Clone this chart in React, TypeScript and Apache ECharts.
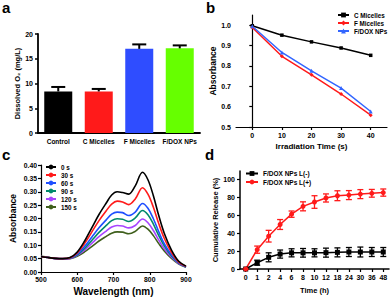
import React, { useEffect, useRef } from 'react';
import * as echarts from 'echarts';

// Panel a
const aCategories = ['Control', 'C Micelles', 'F Micelles', 'F/DOX NPs'];
const aValues = [8.4, 8.4, 17.0, 17.1];
const aErrors = [0.9, 0.5, 0.9, 0.6];
const aColors = ['#000000', '#ff1a1a', '#2f4dff', '#66ff00'];

// Panel b
const bTimes = [0, 10, 20, 30, 40];
const bCMicelles = [0.997, 0.951, 0.918, 0.888, 0.852];
const bFMicelles = [0.989, 0.847, 0.756, 0.662, 0.558];
const bFDOX = [0.995, 0.866, 0.776, 0.691, 0.576];
const bYTicks = [0.5, 0.6, 0.7, 0.8, 0.9, 1.0];
const bXTicks = [0, 10, 20, 30, 40];

// Panel c
const cWavelengths = [500, 520, 540, 560, 580, 600, 620, 640, 660, 680, 695, 710, 725, 742, 760, 780, 795, 810, 825, 840, 860, 880, 900];
const c0s = [0.058, 0.054, 0.051, 0.050, 0.054, 0.075, 0.115, 0.165, 0.215, 0.258, 0.288, 0.300, 0.297, 0.291, 0.322, 0.373, 0.345, 0.285, 0.210, 0.145, 0.082, 0.040, 0.022];
const c30s = [0.058, 0.054, 0.051, 0.050, 0.053, 0.071, 0.106, 0.149, 0.192, 0.229, 0.254, 0.265, 0.262, 0.252, 0.273, 0.315, 0.291, 0.242, 0.180, 0.126, 0.073, 0.037, 0.021];
const c60s = [0.058, 0.054, 0.051, 0.050, 0.052, 0.067, 0.095, 0.130, 0.165, 0.195, 0.216, 0.224, 0.222, 0.211, 0.224, 0.256, 0.238, 0.199, 0.150, 0.106, 0.064, 0.034, 0.020];
const c90s = [0.058, 0.054, 0.051, 0.049, 0.052, 0.064, 0.088, 0.118, 0.148, 0.174, 0.192, 0.199, 0.197, 0.189, 0.202, 0.230, 0.214, 0.179, 0.136, 0.098, 0.060, 0.033, 0.019];
const c120s = [0.058, 0.054, 0.050, 0.049, 0.051, 0.062, 0.082, 0.107, 0.132, 0.153, 0.168, 0.174, 0.172, 0.165, 0.174, 0.198, 0.184, 0.155, 0.119, 0.087, 0.055, 0.031, 0.019];
const c150s = [0.059, 0.055, 0.050, 0.048, 0.050, 0.059, 0.075, 0.095, 0.116, 0.133, 0.145, 0.150, 0.149, 0.143, 0.152, 0.172, 0.160, 0.136, 0.106, 0.079, 0.051, 0.030, 0.018];
const cNames = ['0 s', '30 s', '60 s', '90 s', '120 s', '150 s'];
const cColors = ['#000000', '#ff1a1a', '#1f4fff', '#00896b', '#a845ff', '#3f5f1c'];

// Panel d
const dTimes = ['0', '1', '2', '4', '6', '8', '10', '12', '18', '24', '30', '36', '48'];
const dMinus = [0, 7, 13, 16.6, 18, 18, 18, 18.2, 18.5, 18.9, 18.9, 18.9, 18.9];
const dMinusErr = [0, 2.8, 5, 4.5, 4.5, 4.8, 4.5, 5, 5, 5, 5.5, 5, 5];
const dPlus = [0, 21.5, 36.5, 49.5, 61, 69.7, 74.5, 79, 81.5, 82.2, 83.3, 84.2, 85];
const dPlusErr = [0, 4, 6.5, 5.5, 3.5, 5, 7, 4.5, 5.5, 5, 5, 4.3, 4];
const dYTicks = [0, 20, 40, 60, 80, 100];

const FONT = 'Liberation Sans, Arial, sans-serif';

function errRender(capW: number, color: string, lw: number, both: boolean) {
  return (params: any, api: any) => {
    const x = api.value(0);
    const v = api.value(1);
    const e = api.value(2);
    const top = api.coord([x, v + e]);
    const bot = api.coord([x, both ? v - e : v]);
    const st = { stroke: color, lineWidth: lw };
    return {
      type: 'group',
      children: [
        { type: 'line', shape: { x1: top[0], y1: top[1], x2: bot[0], y2: bot[1] }, style: st },
        { type: 'line', shape: { x1: top[0] - capW / 2, y1: top[1], x2: top[0] + capW / 2, y2: top[1] }, style: st },
        ...(both
          ? [{ type: 'line', shape: { x1: bot[0] - capW / 2, y1: bot[1], x2: bot[0] + capW / 2, y2: bot[1] }, style: st }]
          : []),
      ],
    };
  };
}

const axisLine = (w: number) => ({ show: true, lineStyle: { color: '#000', width: w } });
const tickOut = (w: number) => ({ show: true, inside: false, length: 3, lineStyle: { color: '#000', width: w } });
const lbl = (size: number, margin: number) => ({ color: '#000', fontSize: size, fontWeight: 'bold', fontFamily: FONT, margin });
const nameStyle = (size: number) => ({ color: '#000', fontSize: size, fontWeight: 'bold', fontFamily: FONT });

export default function App() {
  const ref = useRef<HTMLDivElement>(null);
  useEffect(() => {
    if (!ref.current) return;
    const chart = echarts.init(ref.current, null, { renderer: 'svg' });
    const option: any = {
      animation: false,
      backgroundColor: '#fff',
      textStyle: { fontFamily: FONT },
      grid: [
        { left: 38, top: 34, width: 162, height: 99 },
        { left: 236, top: 15, width: 151, height: 112 },
        { left: 41, top: 165, width: 145, height: 107 },
        { left: 240, top: 171, width: 149, height: 98 },
      ],
      xAxis: [
        {
          gridIndex: 0, type: 'category', data: aCategories, boundaryGap: true,
          axisLine: axisLine(1.8), axisTick: { show: false },
          axisLabel: { ...lbl(6.5, 5), interval: 0 },
        },
        {
          gridIndex: 1, type: 'value', min: -5.5, max: 45.5,
          axisLine: axisLine(1.2), axisTick: { ...tickOut(1.2), customValues: bXTicks },
          axisLabel: { ...lbl(7, 5), customValues: bXTicks },
          splitLine: { show: false },
          name: 'Irradiation Time (s)', nameLocation: 'middle', nameGap: 15, nameTextStyle: nameStyle(8),
        },
        {
          gridIndex: 2, type: 'value', min: 500, max: 900, interval: 100,
          axisLine: axisLine(1.2), axisTick: tickOut(1.2),
          axisLabel: lbl(6.8, 4), splitLine: { show: false },
          name: 'Wavelength (nm)', nameLocation: 'middle', nameGap: 14, nameTextStyle: nameStyle(10),
        },
        {
          gridIndex: 3, type: 'category', data: dTimes, boundaryGap: true,
          axisLine: axisLine(1.5), axisTick: { ...tickOut(1.2), alignWithLabel: true },
          axisLabel: { ...lbl(7, 5), interval: 0 },
          name: 'Time (h)', nameLocation: 'middle', nameGap: 17, nameTextStyle: nameStyle(7.5),
        },
      ],
      yAxis: [
        {
          gridIndex: 0, type: 'value', min: 0, max: 20, interval: 5,
          axisLine: axisLine(1.8), axisTick: tickOut(1.5),
          axisLabel: lbl(7, 5), splitLine: { show: false },
          name: 'Dissolved O\u2082 (mg/L)', nameLocation: 'middle', nameGap: 16, nameRotate: 90,
          nameTextStyle: nameStyle(7.5),
        },
        {
          gridIndex: 1, type: 'value', min: 0.5, max: 1.05,
          axisLine: axisLine(1.2), axisTick: { ...tickOut(1.2), customValues: bYTicks },
          axisLabel: { ...lbl(7, 5), customValues: bYTicks, formatter: (v: number) => v.toFixed(1) },
          splitLine: { show: false },
          name: 'Absorbance', nameLocation: 'middle', nameGap: 15, nameRotate: 90, nameTextStyle: nameStyle(8.5),
        },
        {
          gridIndex: 2, type: 'value', min: 0, max: 0.4, interval: 0.05,
          axisLine: axisLine(1.2), axisTick: tickOut(1.2),
          axisLabel: { ...lbl(6.8, 4), formatter: (v: number) => v.toFixed(2) },
          splitLine: { show: false },
          name: 'Absorbance', nameLocation: 'middle', nameGap: 24, nameRotate: 90, nameTextStyle: nameStyle(8.5),
        },
        {
          gridIndex: 3, type: 'value', min: 0, max: 109,
          axisLine: axisLine(1.5), axisTick: { ...tickOut(1.2), customValues: dYTicks },
          axisLabel: { ...lbl(7, 5), customValues: dYTicks },
          splitLine: { show: false },
          name: 'Cumulative Release (%)', nameLocation: 'middle', nameGap: 18, nameRotate: 90, nameTextStyle: nameStyle(7.5),
        },
      ],
      legend: [
        {
          data: ['C Micelles', 'F Micelles', 'F/DOX NPs'], orient: 'vertical', left: 337, top: 12, padding: 0,
          itemWidth: 11, itemHeight: 6, itemGap: 2,
          textStyle: { fontSize: 6.3, fontWeight: 'bold', color: '#000', fontFamily: FONT },
        },
        {
          data: cNames, orient: 'vertical', left: 45, top: 164, padding: 0,
          itemWidth: 10, itemHeight: 6, itemGap: 2,
          textStyle: { fontSize: 6.3, fontWeight: 'bold', color: '#000', fontFamily: FONT },
        },
        {
          data: ['F/DOX NPs L(-)', 'F/DOX NPs L(+)'], orient: 'vertical', left: 245, top: 170, padding: 0,
          itemWidth: 12, itemHeight: 6, itemGap: 1.5,
          textStyle: { fontSize: 6.5, fontWeight: 'bold', color: '#000', fontFamily: FONT },
        },
      ],
      graphic: [
        { type: 'text', left: 2, top: 0, style: { text: 'a', font: `bold 15px ${FONT}`, fill: '#000' } },
        { type: 'text', left: 206, top: 0, style: { text: 'b', font: `bold 15px ${FONT}`, fill: '#000' } },
        { type: 'text', left: 2, top: 147, style: { text: 'c', font: `bold 15px ${FONT}`, fill: '#000' } },
        { type: 'text', left: 205, top: 147, style: { text: 'd', font: `bold 15px ${FONT}`, fill: '#000' } },
      ],
      series: [
        {
          type: 'bar', xAxisIndex: 0, yAxisIndex: 0, barWidth: 28,
          data: aValues.map((v, i) => ({ value: v, itemStyle: { color: aColors[i] } })),
        },
        {
          type: 'custom', name: 'errA', xAxisIndex: 0, yAxisIndex: 0, z: 5,
          renderItem: errRender(14, '#000', 2, false),
          data: aValues.map((v, i) => [i, v, aErrors[i]]),
        },
        {
          type: 'line', name: 'C Micelles', xAxisIndex: 1, yAxisIndex: 1,
          data: bTimes.map((t, i) => [t, bCMicelles[i]]),
          color: '#000', lineStyle: { width: 1.5 }, symbol: 'rect', symbolSize: 3.5,
        },
        {
          type: 'line', name: 'F Micelles', xAxisIndex: 1, yAxisIndex: 1,
          data: bTimes.map((t, i) => [t, bFMicelles[i]]),
          color: '#ff1a1a', lineStyle: { width: 1.5 }, symbol: 'diamond', symbolSize: 4,
        },
        {
          type: 'line', name: 'F/DOX NPs', xAxisIndex: 1, yAxisIndex: 1,
          data: bTimes.map((t, i) => [t, bFDOX[i]]),
          color: '#3366ff', lineStyle: { width: 1.5 }, symbol: 'triangle', symbolSize: 4,
        },
        ...[c0s, c30s, c60s, c90s, c120s, c150s].map((arr, k) => ({
          type: 'line', name: cNames[k], xAxisIndex: 2, yAxisIndex: 2,
          data: cWavelengths.map((w, i) => [w, arr[i]]),
          color: cColors[k], lineStyle: { width: 1.6 }, symbol: 'none', smooth: 0.35, z: 10 - k,
        })),
        {
          type: 'custom', name: 'errMinus', xAxisIndex: 3, yAxisIndex: 3,
          renderItem: errRender(6, '#000', 1.3, true),
          data: dMinus.map((v, i) => [i, v, dMinusErr[i]]),
        },
        {
          type: 'custom', name: 'errPlus', xAxisIndex: 3, yAxisIndex: 3,
          renderItem: errRender(6, '#ff1a1a', 1.3, true),
          data: dPlus.map((v, i) => [i, v, dPlusErr[i]]),
        },
        {
          type: 'line', name: 'F/DOX NPs L(-)', xAxisIndex: 3, yAxisIndex: 3,
          data: dMinus, color: '#000', lineStyle: { width: 1.5 }, symbol: 'rect', symbolSize: 5,
        },
        {
          type: 'line', name: 'F/DOX NPs L(+)', xAxisIndex: 3, yAxisIndex: 3,
          data: dPlus, color: '#ff1a1a', lineStyle: { width: 1.5 }, symbol: 'circle', symbolSize: 5,
        },
      ],
    };
    chart.setOption(option);
    return () => chart.dispose();
  }, []);
  return <div ref={ref} style={{ position: 'absolute', left: 0, top: 0, width: 392, height: 298 }} />;
}
